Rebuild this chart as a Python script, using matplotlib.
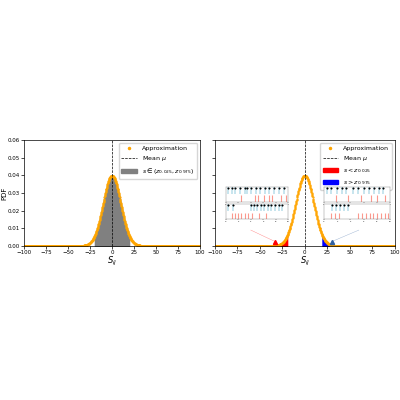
import matplotlib.pyplot as plt
import numpy as np

mu = 0.0
sigma = 10.0
z_lo, z_hi = -19.6, 19.6
x_range = [-100, 100]
y_ticks = [0.0, 0.01, 0.02, 0.03, 0.04, 0.05, 0.06]
x_ticks = [-100, -75, -50, -25, 0, 25, 50, 75, 100]
marker_lo, marker_hi = -33, 30

# spike trains for the insets (times on 0..10)
left_top_a = [0.3, 0.9, 1.5, 2.2, 3.0, 3.4, 4.1, 4.8, 5.5, 6.3, 7.0, 7.8, 8.6, 9.4]
left_top_b = [2.5, 4.7, 5.1, 6.2, 6.9, 7.4, 8.8, 9.6]
left_bot_a = [0.4, 1.2, 4.0, 4.5, 5.0, 5.6, 6.1, 6.7, 7.3, 7.9, 8.5, 9.1]
left_bot_b = [1.0, 1.5, 2.0, 2.5, 3.0, 3.5, 4.2, 5.3, 6.4]
right_top_a = [0.5, 1.1, 2.0, 2.8, 3.3, 4.4, 5.2, 6.0, 6.8, 7.5, 8.3, 9.0]
right_top_b = [1.8, 3.7, 5.6, 7.1, 8.0, 9.3]
right_bot_a = [1.2, 1.8, 2.4, 3.0, 3.6]
right_bot_b = [1.0, 1.6, 2.3, 5.2, 5.8, 6.3, 6.9, 7.4, 8.0, 8.6, 9.2, 9.7]

xs = np.linspace(x_range[0], x_range[1], 800)
pdf = np.exp(-0.5 * ((xs - mu) / sigma) ** 2) / (sigma * np.sqrt(2 * np.pi))

fig = plt.figure(figsize=(4, 4), dpi=100)
ax1 = fig.add_axes([0.06, 0.385, 0.44, 0.265])
ax2 = fig.add_axes([0.537, 0.385, 0.45, 0.265], sharey=ax1)

for ax in (ax1, ax2):
    ax.plot(xs, pdf, '.', color='orange', ms=1.2, label='Approximation')
    ax.axvline(mu, color='k', ls='--', lw=0.5, label=r'Mean $\mu$')
    ax.set_xlim(*x_range)
    ax.set_ylim(0, 0.06)
    ax.set_xticks(x_ticks)
    ax.set_yticks(y_ticks)
    ax.tick_params(labelsize=4, length=2, width=0.5, pad=1)
    ax.set_xlabel(r'$S_{ij}$', fontsize=6, labelpad=0)
    for s in ax.spines.values():
        s.set_linewidth(0.5)

m = (xs >= z_lo) & (xs <= z_hi)
ax1.fill_between(xs[m], pdf[m], color='gray', label=r'$s \in (z_{0.025}, z_{0.975})$')
ax1.set_ylabel('PDF', fontsize=5, labelpad=0)
ax1.legend(fontsize=4.5, loc='upper right', markerscale=2.5, handlelength=2.5)

ml = xs <= z_lo
mh = xs >= z_hi
ax2.fill_between(xs[ml], pdf[ml], color='red', label=r'$s < z_{0.025}$')
ax2.fill_between(xs[mh], pdf[mh], color='blue', label=r'$s > z_{0.975}$')
ax2.tick_params(labelleft=False)
ax2.legend(fontsize=4.5, loc='upper right', markerscale=2.5, handlelength=2.5)
ax2.plot([marker_lo], [0.0025], '^', color='red', ms=3)
ax2.plot([marker_hi], [0.0025], '^', color='#3060a0', ms=3)
ax2.plot([marker_lo, -60], [0.0025, 0.009], color='red', lw=0.3, alpha=0.5)
ax2.plot([marker_hi, 60], [0.0025, 0.009], color='#3060a0', lw=0.3, alpha=0.5)

def inset(rect, a, b):
    ia = fig.add_axes(rect)
    ia.vlines(a, 0.55, 1.0, color='lightblue', lw=1.2, alpha=0.8)
    ia.vlines(b, 0.0, 0.45, color='salmon', lw=0.8, alpha=0.8)
    ia.plot(a, [0.95] * len(a), 's', color='k', ms=0.5)
    ia.set_xlim(0, 10)
    ia.set_ylim(0, 1)
    ia.set_xticks([0, 2, 4, 6, 8, 10])
    ia.set_yticks([])
    ia.tick_params(labelsize=1.5, length=1, width=0.3, pad=0.5)
    for s in ia.spines.values():
        s.set_linewidth(0.3)
        s.set_color('gray')

inset([0.565, 0.495, 0.155, 0.037], left_top_a, left_top_b)
inset([0.565, 0.452, 0.155, 0.037], left_bot_a, left_bot_b)
inset([0.81, 0.495, 0.165, 0.037], right_top_a, right_top_b)
inset([0.81, 0.452, 0.165, 0.037], right_bot_a, right_bot_b)

plt.savefig('out.png')
